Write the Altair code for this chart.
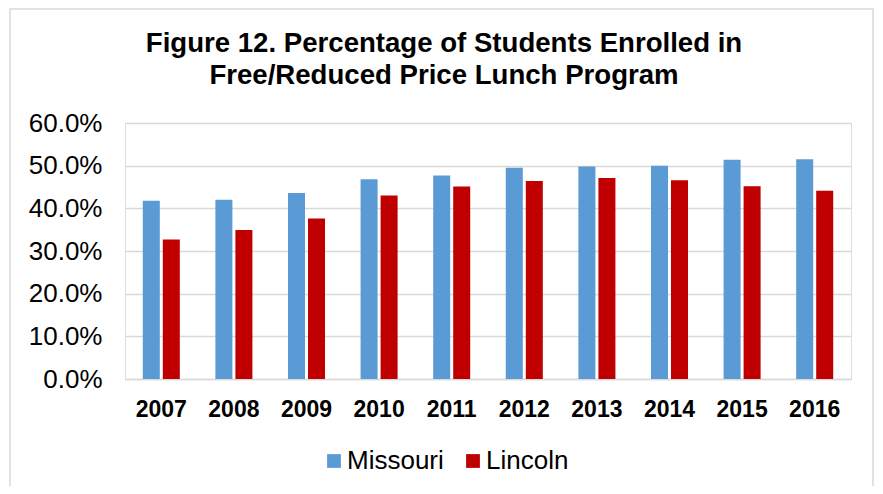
import altair as alt
import pandas as pd

years = ["2007", "2008", "2009", "2010", "2011", "2012", "2013", "2014", "2015", "2016"]
missouri = [41.8, 42.0, 43.6, 46.8, 47.7, 49.5, 49.8, 50.0, 51.4, 51.5]
lincoln = [32.7, 34.9, 37.6, 43.0, 45.1, 46.4, 47.1, 46.6, 45.2, 44.1]
series = ["Missouri", "Lincoln"]
colors = ["#5B9BD5", "#C00000"]
y_ticks = [0.0, 0.1, 0.2, 0.3, 0.4, 0.5, 0.6]

rows = []
for i, yr in enumerate(years):
    rows.append({"year": yr, "series": "Missouri", "value": missouri[i] / 100})
    rows.append({"year": yr, "series": "Lincoln", "value": lincoln[i] / 100})
df = pd.DataFrame(rows)

FONT = "Liberation Sans, Arial, sans-serif"

bars = alt.Chart(df).mark_bar().encode(
    x=alt.X("year:N", sort=years,
            scale=alt.Scale(paddingInner=0.49, paddingOuter=0.245),
            axis=alt.Axis(title=None, labelAngle=0, labelFont=FONT, labelFontSize=23,
                          labelFontWeight="bold", labelColor="#000000", ticks=False,
                          labelPadding=19, domainColor="#D9D9D9", domainWidth=1.5,
                          grid=False)),
    xOffset=alt.XOffset("series:N", sort=series, scale=alt.Scale(paddingInner=0.15)),
    y=alt.Y("value:Q", scale=alt.Scale(domain=[0, 0.6], nice=False),
            axis=alt.Axis(title=None, format=".1%", values=y_ticks, labelFont=FONT,
                          labelFontSize=26, labelColor="#000000", ticks=False,
                          domain=False, labelPadding=23, gridColor="#D9D9D9",
                          gridWidth=1.5)),
    color=alt.Color("series:N", sort=series,
                    scale=alt.Scale(domain=series, range=colors),
                    legend=alt.Legend(title=None, orient="none", direction="horizontal",
                                      legendX=196, legendY=325, padding=0,
                                      symbolType="square", symbolSize=190,
                                      symbolStrokeWidth=0, labelFont=FONT,
                                      labelFontSize=26, labelColor="#000000",
                                      labelOffset=0, columnPadding=16)),
)

border = alt.Chart(pd.DataFrame({"a": [0]})).mark_rect(
    fill=None, stroke="#D9D9D9", strokeWidth=1.5, clip=False
).encode(
    x=alt.value(-115), x2=alt.value(748), y=alt.value(-114), y2=alt.value(400)
)

chart = alt.layer(border, bars).properties(
    width=726, height=256,
    autosize=alt.AutoSizeParams(type="none"),
    padding={"left": 117, "top": 115, "right": 24, "bottom": 107},
    title=alt.TitleParams(
        text=["Figure 12. Percentage of Students Enrolled in",
              "Free/Reduced Price Lunch Program"],
        font=FONT, fontSize=27.6, fontWeight="bold", color="#000000",
        lineHeight=31.6, anchor="middle", frame="group", offset=-81, dx=-44),
).configure_view(stroke=None).configure(background="#FFFFFF")

chart.save("out.html", embed_options={"renderer": "svg", "actions": False})
